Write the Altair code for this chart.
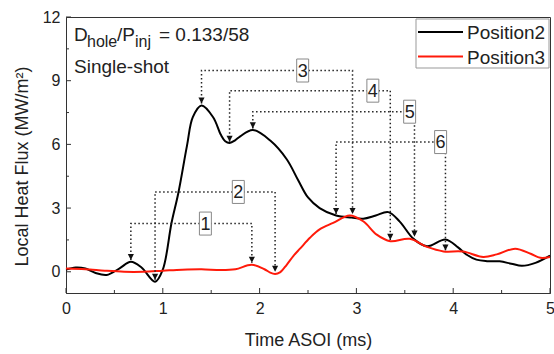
import altair as alt
import pandas as pd

# ---------------- data ----------------
series_names = ["Position2", "Position3"]
series_colors = ["#000000", "#ff1a0a"]

t_pos2 = [0.0, 0.1, 0.2, 0.3, 0.42, 0.55, 0.67, 0.78, 0.92, 1.0, 1.09, 1.16, 1.25, 1.31,
          1.4, 1.52, 1.6, 1.645, 1.69, 1.75, 1.8, 1.93, 2.11, 2.28, 2.4, 2.5, 2.62, 2.79, 2.95, 3.07,
          3.2, 3.33, 3.45, 3.59, 3.73, 3.92, 4.05, 4.14, 4.24, 4.35, 4.48, 4.6, 4.71, 4.85, 5.0]
flux_pos2 = [0.1, 0.2, 0.15, -0.05, -0.15, 0.15, 0.47, 0.2, -0.47, 0.1, 2.3, 3.7, 5.94, 7.28,
             7.83, 7.28, 6.45, 6.15, 6.07, 6.2, 6.38, 6.68, 6.18, 5.3, 4.3, 3.5, 3.0, 2.65, 2.55, 2.5,
             2.65, 2.81, 2.35, 1.55, 1.2, 1.52, 1.15, 0.8, 0.57, 0.5, 0.49, 0.38, 0.28, 0.42, 0.76]

t_pos3 = [0.0, 0.2, 0.4, 0.6, 0.8, 1.0, 1.2, 1.4, 1.6, 1.75, 1.92, 2.05, 2.11, 2.16, 2.21, 2.28, 2.35,
          2.42, 2.52, 2.62, 2.76, 2.93, 3.07, 3.21, 3.35, 3.55, 3.73, 3.9, 4.1, 4.31, 4.45,
          4.64, 4.8, 4.9, 5.0]
flux_pos3 = [0.15, 0.12, 0.05, 0.0, 0.0, 0.05, 0.1, 0.12, 0.08, 0.12, 0.33, 0.12, -0.04, -0.1, -0.03, 0.33, 0.75,
             1.1, 1.6, 2.0, 2.3, 2.65, 2.38, 1.75, 1.44, 1.55, 1.17, 0.96, 0.95, 0.7, 0.82,
             1.09, 0.85, 0.66, 0.7]

# annotation arrows (numbered boxes)
ann_id = ["1", "2", "3", "4", "5", "6"]
ann_left_t = [0.67, 0.92, 1.40, 1.69, 1.93, 2.79]
ann_left_tip = [0.55, -0.38, 7.92, 6.12, 6.75, 2.72]
ann_right_t = [1.92, 2.16, 2.96, 3.35, 3.60, 3.92]
ann_right_tip = [0.42, 0.0, 2.72, 1.5, 1.65, 1.0]
ann_top = [2.27, 3.76, 9.48, 8.53, 7.54, 6.11]
ann_label_t = [1.44, 1.78, 2.445, 3.17, 3.55, 3.87]

x_major = [0, 1, 2, 3, 4, 5]
x_minor = [0.5, 1.5, 2.5, 3.5, 4.5]
y_major = [0, 3, 6, 9, 12]
y_minor = [1.5, 4.5, 7.5, 10.5]

# ---------------- tables ----------------
W, H = 484, 276
FONT = "Liberation Sans"
TXT = "#222222"

curves = pd.concat([
    pd.DataFrame({"t": t_pos2, "v": flux_pos2, "series": series_names[0]}),
    pd.DataFrame({"t": t_pos3, "v": flux_pos3, "series": series_names[1]}),
])

paths = []
tips = []
for i, a in enumerate(ann_id):
    pts = [(ann_left_t[i], ann_left_tip[i]), (ann_left_t[i], ann_top[i]),
           (ann_right_t[i], ann_top[i]), (ann_right_t[i], ann_right_tip[i])]
    for k, (tt, vv) in enumerate(pts):
        paths.append({"id": a, "k": k, "t": tt, "v": vv})
    tips.append({"id": a, "t": ann_left_t[i], "v": ann_left_tip[i]})
    tips.append({"id": a, "t": ann_right_t[i], "v": ann_right_tip[i]})
paths = pd.DataFrame(paths)
tips = pd.DataFrame(tips)
labels = pd.DataFrame({"id": ann_id, "t": ann_label_t, "v": ann_top})

xs = alt.Scale(domain=[0, 5], nice=False)
ys = alt.Scale(domain=[-1, 12], nice=False, zero=False)

x_axis = alt.Axis(values=x_major, format="d", title="Time ASOI (ms)", titleFont=FONT,
                  titleFontSize=18, titleFontWeight="normal", titleColor=TXT, titleY=52,
                  titleBaseline="alphabetic", labelFont=FONT, labelFontSize=16, labelColor=TXT,
                  labelPadding=7, labelFlush=False, labelOverlap=False, ticks=False, tickSize=0,
                  domainColor="#333333", grid=False)
y_axis = alt.Axis(values=y_major, format="d", title="Local Heat Flux (MW/m²)", titleFont=FONT,
                  titleFontSize=18, titleFontWeight="normal", titleColor=TXT, titleX=-44,
                  titleY=149, titleAngle=270, titleAlign="center", titleBaseline="middle",
                  labelFont=FONT, labelFontSize=16, labelColor=TXT, labelPadding=6,
                  labelFlush=False, labelOverlap=False, ticks=False, tickSize=0,
                  domainColor="#333333", grid=False)

lines = alt.Chart(curves).mark_line(strokeWidth=2, interpolate="catmull-rom").encode(
    x=alt.X("t:Q", scale=xs, axis=x_axis),
    y=alt.Y("v:Q", scale=ys, axis=y_axis),
    color=alt.Color("series:N", scale=alt.Scale(domain=series_names, range=series_colors), legend=None),
)

dotted = alt.Chart(paths).mark_line(strokeWidth=1.5, strokeDash=[1.5, 2.5], color="#222222").encode(
    x=alt.X("t:Q", scale=xs), y=alt.Y("v:Q", scale=ys), detail="id:N", order="k:Q")

heads = alt.Chart(tips).mark_point(shape="M-0.5,-1L0.5,-1L0,0Z", size=150, filled=True,
                                    color="#111111", opacity=1).encode(
    x=alt.X("t:Q", scale=xs), y=alt.Y("v:Q", scale=ys))

boxes = alt.Chart(labels).mark_point(shape="M-0.52,-1H0.52V1H-0.52Z", size=529, fill="white",
                                      stroke="#888888", strokeWidth=1, opacity=1, fillOpacity=1).encode(
    x=alt.X("t:Q", scale=xs), y=alt.Y("v:Q", scale=ys))

box_text = alt.Chart(labels).mark_text(font=FONT, fontSize=18, color=TXT, baseline="middle",
                                        align="center", dy=1).encode(
    x=alt.X("t:Q", scale=xs), y=alt.Y("v:Q", scale=ys), text="id:N")

# inward ticks
xt_major = alt.Chart(pd.DataFrame({"t": x_major})).mark_rule(color="#333333", strokeWidth=1).encode(
    x=alt.X("t:Q", scale=xs), y=alt.value(H), y2=alt.value(H - 5))
xt_minor = alt.Chart(pd.DataFrame({"t": x_minor})).mark_rule(color="#333333", strokeWidth=1).encode(
    x=alt.X("t:Q", scale=xs), y=alt.value(H), y2=alt.value(H - 3))
yt_major = alt.Chart(pd.DataFrame({"v": y_major})).mark_rule(color="#333333", strokeWidth=1).encode(
    y=alt.Y("v:Q", scale=ys), x=alt.value(0), x2=alt.value(5))
yt_minor = alt.Chart(pd.DataFrame({"v": y_minor})).mark_rule(color="#333333", strokeWidth=1).encode(
    y=alt.Y("v:Q", scale=ys), x=alt.value(0), x2=alt.value(3))

one = pd.DataFrame({"a": [0]})


def txt(s, x, y, size, align="left"):
    return alt.Chart(one).mark_text(text=s, font=FONT, fontSize=size, color=TXT, align=align,
                                    baseline="alphabetic").encode(x=alt.value(x), y=alt.value(y))


title_parts = [
    txt("D", 8, 24, 19), txt("hole", 21, 30, 16), txt("/P", 51, 24, 19),
    txt("inj", 69, 30, 16), txt("= 0.133/58", 93, 24, 19), txt("Single-shot", 8, 56, 19),
]

# manual legend
leg_box = alt.Chart(one).mark_rect(fill="white", stroke="#999999", strokeWidth=1).encode(
    x=alt.value(350), x2=alt.value(483), y=alt.value(2), y2=alt.value(51))
leg_items = []
for i, name in enumerate(series_names):
    yy = 15 + 24.5 * i
    leg_items.append(alt.Chart(one).mark_rule(color=series_colors[i], strokeWidth=2).encode(
        x=alt.value(352), x2=alt.value(397), y=alt.value(yy)))
    leg_items.append(alt.Chart(one).mark_text(text=name, font=FONT, fontSize=19, color=TXT,
                                              align="left", baseline="middle").encode(
        x=alt.value(401), y=alt.value(yy + 1)))

chart = alt.layer(
    lines, dotted, heads, boxes, box_text, xt_major, xt_minor, yt_major, yt_minor,
    *title_parts, leg_box, *leg_items
).properties(
    width=W, height=H, autosize=alt.AutoSizeParams(type="none"),
    padding={"left": 66, "top": 17, "right": 4, "bottom": 61},
    background="white",
).configure_view(stroke="#333333", strokeWidth=1)

chart.save("out.html", embed_options={"renderer": "svg", "actions": False})
